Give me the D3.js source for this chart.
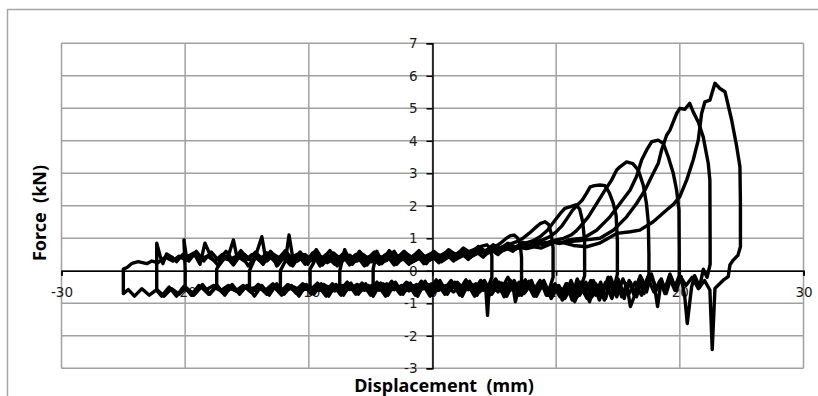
<!DOCTYPE html>
<html>
<head>
<meta charset="utf-8">
<script src="https://cdn.jsdelivr.net/npm/d3@7"></script>
<style>
  body { margin: 0; background: #fff; }
  svg { display: block; }
</style>
</head>
<body>
<div id="chart"></div>
<script>
// axis ticks
const xTicks = [-30, -20, -10, 0, 10, 20, 30];
const yTicks = [-3, -2, -1, 0, 1, 2, 3, 4, 5, 6, 7];

// cyclic force-displacement record, one array per loading cycle [disp mm, force kN]
const loop1 = [[-4.8,-0.55],[-4.8,0.05],[-4.5,0.6],[-4.1,0.25],[-3.5,0.4],[-2.9,0.28],[-2.3,0.42],[-1.7,0.3],[-1.1,0.45],[-0.5,0.32],[0.1,0.45],[0.7,0.35],[1.3,0.5],[1.9,0.42],[2.5,0.55],[3.0,0.6],[3.5,0.68],[4.0,0.76],[4.4,0.8],[4.65,0.7],[4.8,0.45],[4.8,-0.2],[4.6,-0.4],[4.45,-1.37],[4.3,-0.5],[3.9,-0.3],[3.4,-0.6],[2.9,-0.4],[2.3,-0.62],[1.7,-0.42],[1.1,-0.6],[0.5,-0.4],[-0.1,-0.62],[-0.7,-0.45],[-1.3,-0.6],[-1.9,-0.42],[-2.5,-0.6],[-3.1,-0.45],[-3.7,-0.62],[-4.3,-0.48],[-4.8,-0.55]];

const loop2 = [[-7.5,-0.55],[-7.5,0.0],[-7.1,0.65],[-6.8,0.4],[-6.4,0.3],[-5.8,0.4],[-5.2,0.25],[-4.6,0.38],[-4.0,0.3],[-3.4,0.45],[-2.8,0.3],[-2.2,0.38],[-1.6,0.28],[-1.0,0.4],[-0.4,0.3],[0.2,0.42],[0.8,0.3],[1.4,0.45],[2.0,0.38],[2.6,0.5],[3.2,0.45],[3.8,0.58],[4.4,0.6],[5.0,0.72],[5.5,0.85],[5.9,0.98],[6.3,1.08],[6.6,1.1],[6.9,1.0],[7.1,0.8],[7.2,0.4],[7.2,-0.3],[7.0,-0.5],[6.7,-0.95],[6.5,-0.45],[6.1,-0.2],[5.6,-0.55],[5.1,-0.3],[4.6,-0.65],[4.0,-0.4],[3.4,-0.6],[2.8,-0.4],[2.2,-0.55],[1.6,-0.35],[1.0,-0.6],[0.4,-0.42],[-0.2,-0.6],[-0.8,-0.4],[-1.4,-0.55],[-2.0,-0.42],[-2.6,-0.62],[-3.2,-0.45],[-3.8,-0.6],[-4.4,-0.42],[-5.0,-0.55],[-5.6,-0.45],[-6.2,-0.62],[-6.8,-0.5],[-7.5,-0.55]];

const loop3 = [[-9.9,-0.55],[-9.9,0.05],[-9.6,0.25],[-9.4,0.65],[-8.9,0.35],[-8.3,0.45],[-7.7,0.28],[-7.1,0.4],[-6.5,0.3],[-5.9,0.5],[-5.3,0.32],[-4.7,0.45],[-4.1,0.25],[-3.5,0.38],[-2.9,0.3],[-2.3,0.5],[-1.7,0.35],[-1.1,0.48],[-0.5,0.36],[0.1,0.5],[0.7,0.4],[1.3,0.52],[1.9,0.45],[2.5,0.58],[3.1,0.5],[3.7,0.62],[4.3,0.6],[4.9,0.7],[5.5,0.72],[6.1,0.8],[6.7,0.88],[7.3,1.0],[7.8,1.15],[8.3,1.32],[8.7,1.45],[9.1,1.51],[9.4,1.42],[9.6,1.15],[9.75,0.7],[9.75,-0.2],[9.5,-0.5],[9.2,-0.75],[8.8,-0.35],[8.4,-0.7],[8.0,-0.3],[7.5,-0.65],[7.0,-0.35],[6.5,-0.6],[5.9,-0.4],[5.3,-0.65],[4.7,-0.42],[4.1,-0.6],[3.5,-0.4],[2.9,-0.58],[2.3,-0.45],[1.7,-0.65],[1.1,-0.45],[0.5,-0.6],[-0.1,-0.4],[-0.7,-0.55],[-1.3,-0.42],[-1.9,-0.62],[-2.5,-0.45],[-3.1,-0.58],[-3.7,-0.4],[-4.3,-0.6],[-4.9,-0.45],[-5.5,-0.6],[-6.1,-0.42],[-6.7,-0.58],[-7.3,-0.45],[-7.9,-0.62],[-8.5,-0.48],[-9.1,-0.6],[-9.9,-0.55]];

const loop4 = [[-12.3,-0.55],[-12.3,0.0],[-11.9,0.3],[-11.6,1.1],[-11.3,0.4],[-10.9,0.3],[-10.3,0.5],[-9.7,0.3],[-9.1,0.45],[-8.5,0.25],[-7.9,0.4],[-7.3,0.3],[-6.7,0.48],[-6.1,0.3],[-5.5,0.42],[-4.9,0.28],[-4.3,0.45],[-3.7,0.32],[-3.1,0.6],[-2.7,0.35],[-2.1,0.45],[-1.5,0.3],[-0.9,0.42],[-0.3,0.32],[0.3,0.45],[0.9,0.35],[1.5,0.5],[2.1,0.4],[2.7,0.52],[3.3,0.48],[3.9,0.58],[4.5,0.55],[5.1,0.66],[5.7,0.62],[6.3,0.72],[6.9,0.75],[7.5,0.85],[8.1,0.92],[8.7,1.05],[9.3,1.25],[9.8,1.5],[10.3,1.75],[10.7,1.92],[11.1,1.97],[11.6,2.03],[11.9,1.9],[12.15,1.5],[12.3,0.9],[12.3,-0.15],[12.0,-0.5],[11.7,-0.25],[11.3,-0.8],[10.9,-0.4],[10.5,-0.85],[10.0,-0.45],[9.5,-0.75],[9.0,-0.3],[8.5,-0.65],[8.0,-0.4],[7.4,-0.7],[6.8,-0.42],[6.2,-0.62],[5.6,-0.38],[5.0,-0.6],[4.4,-0.45],[3.8,-0.65],[3.2,-0.42],[2.6,-0.6],[2.0,-0.35],[1.4,-0.55],[0.8,-0.45],[0.2,-0.65],[-0.4,-0.42],[-1.0,-0.6],[-1.6,-0.45],[-2.2,-0.62],[-2.8,-0.48],[-3.4,-0.6],[-4.0,-0.4],[-4.6,-0.58],[-5.2,-0.45],[-5.8,-0.62],[-6.4,-0.48],[-7.0,-0.6],[-7.6,-0.45],[-8.2,-0.58],[-8.8,-0.42],[-9.4,-0.6],[-10.0,-0.48],[-10.6,-0.62],[-11.2,-0.5],[-11.8,-0.6],[-12.3,-0.55]];

const loop5 = [[-14.8,-0.55],[-14.8,0.0],[-14.4,0.35],[-13.8,1.05],[-13.5,0.4],[-13.0,0.55],[-12.6,0.15],[-12.1,0.45],[-11.5,0.18],[-10.9,0.5],[-10.3,0.2],[-9.7,0.55],[-9.1,0.15],[-8.5,0.42],[-7.9,0.2],[-7.3,0.5],[-6.7,0.18],[-6.1,0.45],[-5.5,0.15],[-4.9,0.4],[-4.3,0.2],[-3.7,0.48],[-3.1,0.18],[-2.5,0.42],[-1.9,0.2],[-1.3,0.5],[-0.7,0.22],[-0.1,0.48],[0.5,0.25],[1.1,0.52],[1.7,0.3],[2.3,0.55],[2.9,0.35],[3.5,0.6],[4.1,0.42],[4.7,0.66],[5.3,0.5],[5.9,0.72],[6.5,0.6],[7.1,0.8],[7.7,0.72],[8.3,0.9],[8.9,0.95],[9.5,1.05],[10.0,1.2],[10.5,1.4],[10.9,1.62],[11.3,1.85],[11.7,2.02],[12.1,2.17],[12.45,2.38],[12.75,2.58],[13.1,2.62],[13.55,2.64],[13.95,2.62],[14.3,2.4],[14.6,2.1],[14.85,1.7],[14.95,0.9],[14.95,-0.1],[14.7,-0.5],[14.4,-0.2],[14.0,-0.85],[13.6,-0.35],[13.2,-0.75],[12.8,-0.3],[12.3,-0.7],[11.8,-0.35],[11.3,-0.9],[10.8,-0.4],[10.3,-0.8],[9.8,-0.45],[9.3,-0.75],[8.8,-0.4],[8.2,-0.78],[7.6,-0.35],[7.0,-0.75],[6.4,-0.38],[5.8,-0.8],[5.2,-0.35],[4.6,-0.75],[4.0,-0.4],[3.4,-0.78],[2.8,-0.38],[2.2,-0.75],[1.6,-0.35],[1.0,-0.72],[0.4,-0.4],[-0.2,-0.78],[-0.8,-0.4],[-1.4,-0.75],[-2.0,-0.38],[-2.6,-0.72],[-3.2,-0.42],[-3.8,-0.78],[-4.4,-0.45],[-5.0,-0.75],[-5.6,-0.42],[-6.2,-0.72],[-6.8,-0.4],[-7.4,-0.75],[-8.0,-0.45],[-8.6,-0.78],[-9.2,-0.48],[-9.8,-0.72],[-10.4,-0.42],[-11.0,-0.7],[-11.6,-0.45],[-12.2,-0.75],[-12.8,-0.5],[-13.4,-0.72],[-14.0,-0.5],[-14.8,-0.55]];

const loop6 = [[-17.45,-0.55],[-17.45,0.05],[-17.0,0.4],[-16.6,0.35],[-16.1,0.95],[-15.8,0.4],[-15.2,0.5],[-14.6,0.3],[-14.0,0.45],[-13.4,0.3],[-12.8,0.5],[-12.2,0.35],[-11.6,0.45],[-11.0,0.3],[-10.4,0.5],[-9.8,0.32],[-9.2,0.45],[-8.6,0.3],[-8.0,0.55],[-7.4,0.35],[-6.8,0.45],[-6.2,0.3],[-5.6,0.5],[-5.0,0.32],[-4.4,0.45],[-3.8,0.35],[-3.2,0.5],[-2.6,0.38],[-2.0,0.5],[-1.4,0.35],[-0.8,0.45],[-0.2,0.4],[0.4,0.5],[1.0,0.42],[1.6,0.55],[2.2,0.48],[2.8,0.58],[3.4,0.55],[4.0,0.62],[4.6,0.6],[5.2,0.68],[5.8,0.66],[6.4,0.72],[7.0,0.7],[7.6,0.78],[8.2,0.76],[8.8,0.85],[9.4,0.88],[10.0,0.95],[10.6,1.0],[11.2,1.1],[11.6,1.22],[11.92,1.35],[12.6,1.66],[13.27,2.07],[13.95,2.48],[14.48,2.79],[14.89,3.1],[15.16,3.2],[15.7,3.35],[16.2,3.3],[16.64,3.1],[17.04,2.64],[17.3,2.07],[17.45,1.5],[17.5,0.5],[17.5,-0.1],[17.2,-0.45],[16.8,-0.15],[16.4,-0.7],[16.0,-1.1],[15.7,-0.4],[15.3,-0.8],[14.9,-0.3],[14.5,-0.75],[14.0,-0.35],[13.5,-0.9],[13.0,-0.4],[12.5,-0.8],[12.0,-0.35],[11.5,-0.7],[11.0,-0.45],[10.5,-0.9],[10.0,-0.5],[9.4,-0.75],[8.8,-0.4],[8.2,-0.62],[7.6,-0.45],[7.0,-0.65],[6.4,-0.42],[5.8,-0.6],[5.2,-0.45],[4.6,-0.62],[4.0,-0.4],[3.4,-0.58],[2.8,-0.42],[2.2,-0.62],[1.6,-0.48],[1.0,-0.6],[0.4,-0.42],[-0.2,-0.58],[-0.8,-0.45],[-1.4,-0.62],[-2.0,-0.48],[-2.6,-0.6],[-3.2,-0.45],[-3.8,-0.62],[-4.4,-0.5],[-5.0,-0.6],[-5.6,-0.45],[-6.2,-0.62],[-6.8,-0.48],[-7.4,-0.6],[-8.0,-0.5],[-8.6,-0.65],[-9.2,-0.5],[-9.8,-0.58],[-10.4,-0.45],[-11.0,-0.6],[-11.6,-0.5],[-12.2,-0.65],[-12.8,-0.52],[-13.4,-0.6],[-14.0,-0.48],[-14.6,-0.62],[-15.2,-0.5],[-15.8,-0.6],[-16.4,-0.5],[-17.0,-0.62],[-17.45,-0.55]];

const loop7 = [[-20.0,-0.55],[-20.0,0.05],[-20.1,0.95],[-19.9,0.42],[-19.3,0.55],[-18.8,0.2],[-18.4,0.85],[-17.9,0.42],[-17.3,0.15],[-16.7,0.45],[-16.1,0.18],[-15.5,0.5],[-14.9,0.15],[-14.3,0.45],[-13.7,0.2],[-13.1,0.55],[-12.5,0.18],[-11.9,0.48],[-11.3,0.15],[-10.7,0.5],[-10.1,0.2],[-9.5,0.55],[-8.9,0.18],[-8.3,0.45],[-7.7,0.15],[-7.1,0.5],[-6.5,0.2],[-5.9,0.45],[-5.3,0.18],[-4.7,0.5],[-4.1,0.22],[-3.5,0.55],[-2.9,0.2],[-2.3,0.45],[-1.7,0.25],[-1.1,0.52],[-0.5,0.22],[0.1,0.5],[0.7,0.28],[1.3,0.55],[1.9,0.35],[2.5,0.6],[3.1,0.42],[3.7,0.66],[4.3,0.5],[4.9,0.72],[5.5,0.58],[6.1,0.78],[6.7,0.66],[7.3,0.8],[7.9,0.72],[8.5,0.85],[9.1,0.78],[9.7,0.88],[10.3,0.84],[11.0,0.95],[11.6,0.98],[12.19,1.0],[13.27,1.25],[14.35,1.66],[15.16,2.07],[15.97,2.48],[16.5,2.9],[16.91,3.41],[17.31,3.71],[17.72,3.97],[18.25,4.02],[18.66,3.92],[19.06,3.51],[19.47,3.0],[19.74,2.48],[19.93,1.87],[19.95,0.6],[19.95,-0.15],[19.6,-0.5],[19.2,-0.1],[18.8,-0.55],[18.5,-0.3],[18.2,-1.1],[17.9,-0.35],[17.5,-0.15],[17.1,-0.7],[16.7,-0.25],[16.3,-0.75],[15.9,-0.3],[15.5,-0.85],[15.1,-0.35],[14.7,-0.7],[14.2,-0.2],[13.7,-0.8],[13.2,-0.4],[12.7,-0.95],[12.2,-0.45],[11.7,-0.8],[11.2,-0.3],[10.7,-0.75],[10.2,-0.45],[9.6,-0.85],[9.0,-0.35],[8.4,-0.78],[7.8,-0.32],[7.2,-0.75],[6.6,-0.3],[6.0,-0.78],[5.4,-0.35],[4.8,-0.72],[4.2,-0.3],[3.6,-0.75],[3.0,-0.32],[2.4,-0.78],[1.8,-0.35],[1.2,-0.72],[0.6,-0.3],[0.0,-0.75],[-0.6,-0.32],[-1.2,-0.78],[-1.8,-0.38],[-2.4,-0.72],[-3.0,-0.35],[-3.6,-0.75],[-4.2,-0.38],[-4.8,-0.78],[-5.4,-0.4],[-6.0,-0.72],[-6.6,-0.38],[-7.2,-0.75],[-7.8,-0.42],[-8.4,-0.78],[-9.0,-0.4],[-9.6,-0.72],[-10.2,-0.42],[-10.8,-0.78],[-11.4,-0.45],[-12.0,-0.72],[-12.6,-0.4],[-13.2,-0.75],[-13.8,-0.45],[-14.4,-0.78],[-15.0,-0.45],[-15.6,-0.72],[-16.2,-0.42],[-16.8,-0.75],[-17.4,-0.45],[-18.0,-0.72],[-18.6,-0.42],[-19.2,-0.7],[-20.0,-0.55]];

const loop8 = [[-22.3,-0.6],[-22.3,0.85],[-22.0,0.42],[-21.8,0.22],[-21.5,0.52],[-21.0,0.4],[-20.7,0.28],[-20.2,0.5],[-19.7,0.3],[-19.1,0.6],[-18.5,0.3],[-17.9,0.58],[-17.3,0.32],[-16.7,0.6],[-16.1,0.3],[-15.5,0.62],[-14.9,0.35],[-14.3,0.58],[-13.7,0.3],[-13.1,0.6],[-12.5,0.35],[-11.9,0.62],[-11.3,0.32],[-10.7,0.58],[-10.1,0.3],[-9.5,0.6],[-8.9,0.35],[-8.3,0.62],[-7.7,0.32],[-7.1,0.58],[-6.5,0.3],[-5.9,0.6],[-5.3,0.35],[-4.7,0.58],[-4.1,0.3],[-3.5,0.62],[-2.9,0.38],[-2.3,0.6],[-1.7,0.4],[-1.1,0.62],[-0.5,0.38],[0.1,0.6],[0.7,0.42],[1.3,0.65],[1.9,0.48],[2.5,0.7],[3.1,0.55],[3.7,0.75],[4.3,0.6],[4.9,0.8],[5.5,0.68],[6.1,0.85],[6.7,0.72],[7.3,0.88],[7.9,0.78],[8.5,0.9],[9.1,0.82],[9.7,0.92],[10.3,0.85],[11.0,0.9],[11.8,0.92],[12.6,0.96],[13.54,1.0],[14.62,1.25],[15.7,1.66],[16.5,2.07],[17.18,2.48],[17.72,2.9],[18.25,3.3],[18.52,3.71],[18.93,4.17],[19.2,4.33],[19.74,4.84],[20.0,5.0],[20.41,4.97],[20.8,5.15],[21.08,4.89],[21.49,4.58],[21.89,4.12],[22.3,3.3],[22.43,2.79],[22.45,0.8],[22.45,0.2],[22.2,-0.2],[21.9,0.05],[21.6,-0.5],[21.2,-0.15],[20.95,-0.5],[20.6,-1.62],[20.4,-0.8],[20.1,-0.18],[19.7,-0.6],[19.3,-0.2],[18.9,-0.7],[18.5,-0.25],[18.1,-0.6],[17.7,-0.1],[17.3,-0.65],[16.9,-0.3],[16.5,-0.8],[16.0,-0.35],[15.5,-0.75],[15.0,-0.25],[14.5,-0.85],[14.0,-0.4],[13.5,-0.7],[13.0,-0.3],[12.5,-0.85],[12.0,-0.5],[11.5,-0.95],[11.0,-0.5],[10.5,-0.75],[9.9,-0.4],[9.3,-0.7],[8.7,-0.3],[8.1,-0.65],[7.5,-0.28],[6.9,-0.62],[6.3,-0.3],[5.7,-0.65],[5.1,-0.25],[4.5,-0.6],[3.9,-0.3],[3.3,-0.62],[2.7,-0.28],[2.1,-0.65],[1.5,-0.3],[0.9,-0.6],[0.3,-0.28],[-0.3,-0.62],[-0.9,-0.32],[-1.5,-0.65],[-2.1,-0.35],[-2.7,-0.6],[-3.3,-0.32],[-3.9,-0.62],[-4.5,-0.35],[-5.1,-0.65],[-5.7,-0.38],[-6.3,-0.6],[-6.9,-0.35],[-7.5,-0.62],[-8.1,-0.4],[-8.7,-0.65],[-9.3,-0.38],[-9.9,-0.6],[-10.5,-0.4],[-11.1,-0.62],[-11.7,-0.42],[-12.3,-0.65],[-12.9,-0.4],[-13.5,-0.6],[-14.1,-0.42],[-14.7,-0.65],[-15.3,-0.45],[-15.9,-0.62],[-16.5,-0.45],[-17.1,-0.6],[-17.7,-0.45],[-18.3,-0.58],[-18.9,-0.45],[-19.5,-0.75],[-20.1,-0.48],[-20.7,-0.78],[-21.3,-0.5],[-21.9,-0.78],[-22.3,-0.6]];

const loop9 = [[-25,-0.65],[-25,0.05],[-24.7,0.1],[-24.3,0.23],[-23.8,0.28],[-23.1,0.22],[-22.7,0.3],[-22.2,0.25],[-21.6,0.42],[-21.0,0.3],[-20.5,0.45],[-19.9,0.32],[-19.3,0.5],[-18.8,0.35],[-18.2,0.45],[-17.6,0.3],[-17.0,0.5],[-16.4,0.35],[-15.8,0.45],[-15.2,0.3],[-14.6,0.5],[-14.0,0.32],[-13.4,0.55],[-12.8,0.3],[-12.2,0.45],[-11.6,0.35],[-11.0,0.5],[-10.4,0.3],[-9.8,0.45],[-9.2,0.32],[-8.6,0.5],[-8.0,0.35],[-7.4,0.45],[-6.8,0.3],[-6.2,0.5],[-5.6,0.35],[-5.0,0.45],[-4.4,0.32],[-3.8,0.5],[-3.2,0.38],[-2.6,0.48],[-2.0,0.35],[-1.4,0.5],[-0.8,0.4],[-0.2,0.52],[0.4,0.42],[1.0,0.55],[1.6,0.45],[2.2,0.58],[2.8,0.52],[3.4,0.62],[4.0,0.58],[4.6,0.68],[5.2,0.62],[5.8,0.7],[6.4,0.66],[7.0,0.72],[7.6,0.68],[8.2,0.74],[8.8,0.7],[9.4,0.8],[10.0,0.92],[10.6,0.86],[11.4,0.78],[12.47,0.74],[13.5,0.85],[14.89,1.15],[16.0,1.2],[16.77,1.25],[17.85,1.51],[18.93,1.87],[19.5,2.05],[20.0,2.28],[20.55,2.79],[21.08,3.41],[21.49,4.02],[21.76,4.84],[22.03,5.2],[22.43,5.25],[22.84,5.77],[23.24,5.61],[23.65,5.51],[24.19,4.64],[24.6,3.82],[24.86,3.2],[24.9,2.07],[24.9,0.74],[24.7,0.48],[24.32,0.33],[24.05,0.18],[23.91,-0.18],[23.51,-0.29],[23.24,-0.39],[22.84,-0.54],[22.62,-2.42],[22.43,-0.59],[22.0,-0.3],[21.5,-0.55],[21.0,-0.2],[20.5,-0.45],[20.0,-0.15],[19.6,-0.6],[19.2,-0.25],[18.8,-0.7],[18.4,-0.3],[17.9,-0.65],[17.4,-0.2],[16.9,-0.75],[16.4,-0.35],[15.9,-0.7],[15.4,-0.25],[14.9,-0.8],[14.4,-0.4],[13.9,-0.9],[13.4,-0.45],[12.9,-0.8],[12.4,-0.35],[11.9,-0.75],[11.3,-0.45],[10.7,-0.85],[10.1,-0.5],[9.5,-0.72],[8.9,-0.45],[8.3,-0.65],[7.7,-0.48],[7.1,-0.6],[6.5,-0.45],[5.9,-0.62],[5.3,-0.5],[4.7,-0.6],[4.1,-0.45],[3.5,-0.62],[2.9,-0.5],[2.3,-0.6],[1.7,-0.45],[1.1,-0.62],[0.5,-0.5],[-0.1,-0.65],[-0.7,-0.5],[-1.3,-0.6],[-1.9,-0.48],[-2.5,-0.62],[-3.1,-0.5],[-3.7,-0.65],[-4.3,-0.52],[-4.9,-0.6],[-5.5,-0.48],[-6.1,-0.62],[-6.7,-0.52],[-7.3,-0.65],[-7.9,-0.5],[-8.5,-0.6],[-9.1,-0.48],[-9.7,-0.62],[-10.3,-0.55],[-10.9,-0.68],[-11.5,-0.52],[-12.1,-0.6],[-12.7,-0.5],[-13.3,-0.65],[-13.9,-0.55],[-14.5,-0.62],[-15.1,-0.5],[-15.7,-0.65],[-16.3,-0.55],[-16.9,-0.7],[-17.5,-0.5],[-18.1,-0.72],[-18.7,-0.5],[-19.3,-0.75],[-19.9,-0.52],[-20.5,-0.72],[-21.1,-0.55],[-21.7,-0.78],[-22.3,-0.58],[-22.9,-0.75],[-23.5,-0.55],[-24.1,-0.78],[-24.6,-0.58],[-25,-0.7]];

const loops = [loop1, loop2, loop3, loop4, loop5, loop6, loop7, loop8, loop9];

const W = 818, H = 396;
const plot = { left: 61.5, right: 803.5, top: 43.3, bottom: 368.3 };

const svg = d3.select("#chart").append("svg")
    .attr("width", W)
    .attr("height", H);

// outer chart frame (only the top and left edges fall inside the picture)
svg.append("path")
    .attr("d", `M7.5,${H} V9.5 H${W}`)
    .attr("fill", "none")
    .attr("stroke", "#a6a6a6")
    .attr("stroke-width", 1.5);

const x = d3.scaleLinear().domain([-30, 30]).range([plot.left, plot.right]);
const y = d3.scaleLinear().domain([-3, 7]).range([plot.bottom, plot.top]);

// gridlines
svg.append("g")
    .selectAll("line")
    .data(xTicks)
    .enter()
    .append("line")
    .attr("x1", d => x(d)).attr("x2", d => x(d))
    .attr("y1", plot.top).attr("y2", plot.bottom)
    .attr("stroke", "#a0a0a0")
    .attr("stroke-width", 1.5);

svg.append("g")
    .selectAll("line")
    .data(yTicks)
    .enter()
    .append("line")
    .attr("x1", plot.left).attr("x2", plot.right)
    .attr("y1", d => y(d)).attr("y2", d => y(d))
    .attr("stroke", "#a0a0a0")
    .attr("stroke-width", 1.5);

// axes through the origin, plain hyphen for negatives as in the source
const fmt = d => String(d);

const yAxis = svg.append("g")
    .attr("transform", `translate(${x(0)},0)`)
    .call(d3.axisLeft(y).tickValues(yTicks).tickSize(6).tickPadding(9).tickFormat(fmt));

const xAxis = svg.append("g")
    .attr("transform", `translate(0,${y(0)})`)
    .call(d3.axisBottom(x).tickValues(xTicks).tickSize(5).tickPadding(12).tickFormat(fmt));

[yAxis, xAxis].forEach(g => {
    g.select(".domain").attr("stroke", "#000").attr("stroke-width", 1.5);
    g.selectAll(".tick line").attr("stroke", "#000").attr("stroke-width", 1.5);
    g.selectAll(".tick text")
        .attr("fill", "#1a1a1a")
        .style("font-family", "'DejaVu Sans', sans-serif")
        .style("font-size", "13.5px");
});

// hysteresis loops
const line = d3.line()
    .x(d => x(d[0]))
    .y(d => y(d[1]));

svg.append("g")
    .selectAll("path")
    .data(loops)
    .enter()
    .append("path")
    .attr("d", line)
    .attr("fill", "none")
    .attr("stroke", "#000")
    .attr("stroke-width", 3.4)
    .attr("stroke-linejoin", "round")
    .attr("stroke-linecap", "round");

// axis titles
svg.append("text")
    .attr("x", 444)
    .attr("y", 392)
    .attr("text-anchor", "middle")
    .style("font-family", "'Noto Sans', sans-serif")
    .style("font-weight", "bold")
    .style("font-size", "18px")
    .style("white-space", "pre")
    .text("Displacement  (mm)");

svg.append("text")
    .attr("transform", "translate(46,213) rotate(-90)")
    .attr("text-anchor", "middle")
    .style("font-family", "'Noto Sans', sans-serif")
    .style("font-weight", "bold")
    .style("font-size", "18px")
    .style("white-space", "pre")
    .text("Force  (kN)");
</script>
</body>
</html>
